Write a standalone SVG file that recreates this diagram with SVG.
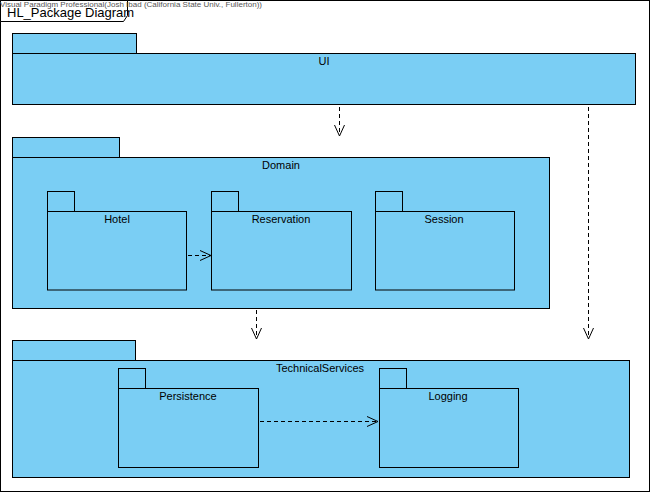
<svg xmlns="http://www.w3.org/2000/svg" width="650" height="492" viewBox="0 0 650 492">
<style>
.pk{fill:#7ACEF4;stroke:#000;stroke-width:1}
.lb{font-family:"Liberation Sans",Arial,sans-serif;font-size:11px;fill:#000;text-anchor:middle}
.dep{fill:none;stroke:#000;stroke-width:1;stroke-dasharray:4,3}
.ah{fill:none;stroke:#000;stroke-width:1}
</style>
<rect x="0.5" y="0.5" width="649" height="491" fill="#fff" stroke="#000"/>
<g id="frame-title">
<path d="M0.5,0.5 H127.5 V15.5 L123.5,21.5 H0.5 Z" fill="#fff" stroke="#000"/>
<text x="0" y="6.5" font-family="'Liberation Sans',Arial,sans-serif" font-size="6.5" fill="#555" textLength="262" lengthAdjust="spacingAndGlyphs">Visual Paradigm Professional(Josh Ibad (California State Univ., Fullerton))</text>
<text x="7" y="17" font-family="'Liberation Sans',Arial,sans-serif" font-size="13" fill="#000">HL_Package Diagram</text>
</g>
<g id="UI">
<rect class="pk" x="12.5" y="33.5" width="124" height="20"/>
<rect class="pk" x="12.5" y="53.5" width="623" height="51"/>
<text class="lb" x="324" y="65">UI</text>
</g>
<g id="Domain">
<rect class="pk" x="12.5" y="137.5" width="107" height="20"/>
<rect class="pk" x="12.5" y="157.5" width="537" height="151"/>
<text class="lb" x="281" y="169">Domain</text>
</g>
<g id="Hotel">
<rect class="pk" x="47.5" y="191.5" width="27" height="20"/>
<rect class="pk" x="47.5" y="211.5" width="139" height="78.5"/>
<text class="lb" x="117" y="223">Hotel</text>
</g>
<g id="Reservation">
<rect class="pk" x="211.5" y="191.5" width="27" height="20"/>
<rect class="pk" x="211.5" y="211.5" width="140" height="78.5"/>
<text class="lb" x="281" y="223">Reservation</text>
</g>
<g id="Session">
<rect class="pk" x="375.5" y="191.5" width="27" height="20"/>
<rect class="pk" x="375.5" y="211.5" width="139" height="78.5"/>
<text class="lb" x="444" y="223">Session</text>
</g>
<g id="TechnicalServices">
<rect class="pk" x="12.5" y="340.5" width="123" height="20"/>
<rect class="pk" x="12.5" y="360.5" width="617" height="117"/>
<text class="lb" x="320" y="372">TechnicalServices</text>
</g>
<g id="Persistence">
<rect class="pk" x="118.5" y="368.5" width="27" height="20"/>
<rect class="pk" x="118.5" y="388.5" width="140" height="79"/>
<text class="lb" x="188" y="400">Persistence</text>
</g>
<g id="Logging">
<rect class="pk" x="379.5" y="368.5" width="27" height="20"/>
<rect class="pk" x="379.5" y="388.5" width="139" height="79"/>
<text class="lb" x="448" y="400">Logging</text>
</g>
<g id="connectors">
<path class="dep" d="M339.5,107 V135"/>
<path class="ah" d="M334.5,125 L339.5,136 L344.5,125"/>
<path class="dep" d="M588.5,107 V338"/>
<path class="ah" d="M583.5,328 L588.5,339 L593.5,328"/>
<path class="dep" d="M256.5,310 V338"/>
<path class="ah" d="M251.5,328 L256.5,339 L261.5,328"/>
<path class="dep" d="M188,255.5 H210"/>
<path class="ah" d="M200,250.5 L211,255.5 L200,260.5"/>
<path class="dep" d="M260,421.5 H377"/>
<path class="ah" d="M367,416.5 L378,421.5 L367,426.5"/>
</g>
</svg>
